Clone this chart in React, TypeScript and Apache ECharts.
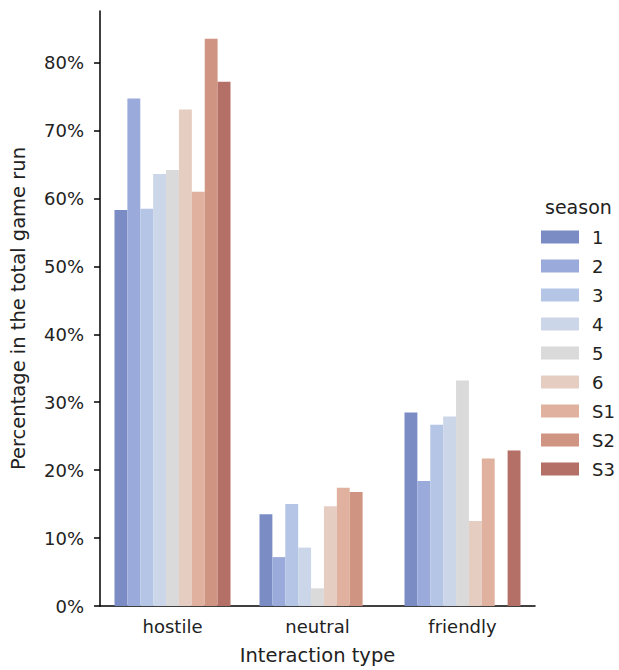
import React, { useEffect, useRef } from "react";
import * as echarts from "echarts";

const categories = ["hostile", "neutral", "friendly"];
const seasons = ["1", "2", "3", "4", "5", "6", "S1", "S2", "S3"];
const season1 = [58.3, 13.5, 28.5];
const season2 = [74.7, 7.2, 18.4];
const season3 = [58.5, 15.0, 26.7];
const season4 = [63.6, 8.6, 27.9];
const season5 = [64.2, 2.6, 33.2];
const season6 = [73.1, 14.7, 12.5];
const seasonS1 = [61.0, 17.4, 21.7];
const seasonS2 = [83.5, 16.8, null];
const seasonS3 = [77.2, null, 22.9];
const seasonValues = [season1, season2, season3, season4, season5, season6, seasonS1, seasonS2, seasonS3];
const colors = ["#7b8cc4", "#9aabdb", "#b4c5e6", "#cbd6e8", "#dadada", "#e6cdc2", "#e0b19e", "#cf9482", "#b46f67"];
const yTicks = [0, 10, 20, 30, 40, 50, 60, 70, 80];

const FONT = "DejaVu Sans";
const TXT = "#222";

export default function App() {
  const ref = useRef<HTMLDivElement>(null);
  useEffect(() => {
    if (!ref.current) return;
    const chart = echarts.init(ref.current, null, { renderer: "svg" });
    chart.setOption({
      animation: false,
      backgroundColor: "#fff",
      textStyle: { fontFamily: FONT },
      grid: { left: 99, right: 84, top: 11, bottom: 61.7, containLabel: false },
      legend: {
        orient: "vertical",
        left: 541,
        top: 228,
        padding: 0,
        itemWidth: 38,
        itemHeight: 13,
        itemGap: 11,
        icon: "rect",
        data: seasons,
        textStyle: { fontFamily: FONT, fontSize: 18, color: TXT, padding: [0, 0, 0, 8] },
      },
      graphic: [
        {
          type: "text",
          left: 545,
          top: 197,
          style: { text: "season", fontFamily: FONT, fontSize: 19, fill: TXT },
        },
      ],
      xAxis: {
        type: "category",
        data: categories,
        boundaryGap: true,
        name: "Interaction type",
        nameLocation: "middle",
        nameGap: 39,
        nameTextStyle: { fontFamily: FONT, fontSize: 19.5, color: TXT },
        axisLine: { lineStyle: { color: "#000", width: 1.5 } },
        axisTick: { alignWithLabel: true, length: 6, lineStyle: { color: "#000", width: 1.5 } },
        axisLabel: { fontFamily: FONT, fontSize: 18, color: TXT, margin: 11 },
        splitLine: { show: false },
      },
      yAxis: {
        type: "value",
        min: 0,
        max: 87.6,
        interval: 10,
        name: "Percentage in the total game run",
        nameLocation: "middle",
        nameGap: 72,
        nameTextStyle: { fontFamily: FONT, fontSize: 19.5, color: TXT },
        axisLine: { show: true, lineStyle: { color: "#000", width: 1.5 } },
        axisTick: { show: true, length: 6, customValues: yTicks, lineStyle: { color: "#000", width: 1.5 } },
        axisLabel: {
          fontFamily: FONT,
          fontSize: 18,
          color: TXT,
          margin: 16,
          customValues: yTicks,
          formatter: (v: number) => `${Math.round(v)}%`,
        },
        splitLine: { show: false },
      },
      series: seasons.map((s, i) => ({
        name: s,
        type: "bar",
        data: seasonValues[i],
        barGap: "0%",
        barCategoryGap: "20%",
        itemStyle: { color: colors[i] },
      })),
    });
    return () => chart.dispose();
  }, []);
  return <div ref={ref} style={{ position: "fixed", left: 0, top: 0, width: 619, height: 670 }} />;
}
